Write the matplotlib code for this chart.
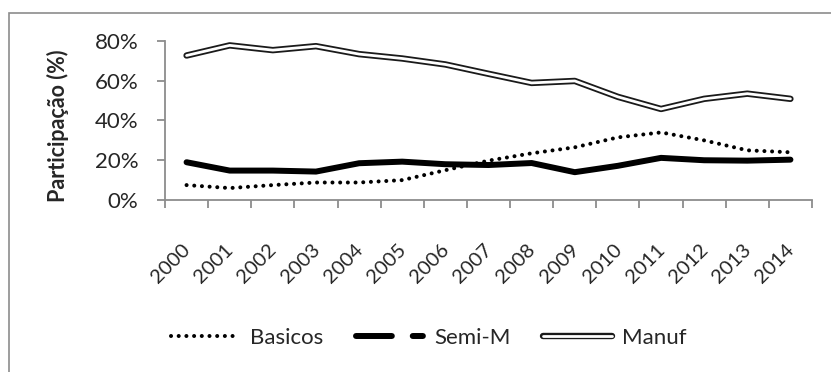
import matplotlib
matplotlib.use("Agg")
import matplotlib.pyplot as plt
import matplotlib.patheffects as pe
from matplotlib.lines import Line2D
from matplotlib.patches import Rectangle
from matplotlib.transforms import ScaledTranslation
from matplotlib.ticker import FuncFormatter

plt.rcParams["font.family"] = ["Lato", "DejaVu Sans"]

# ---------------------------------------------------------------------------
# Data (shares in %)
# ---------------------------------------------------------------------------
years = ["2000", "2001", "2002", "2003", "2004", "2005", "2006", "2007",
         "2008", "2009", "2010", "2011", "2012", "2013", "2014"]
basicos = [7.5, 6.0, 7.5, 8.8, 8.8, 10.0, 15.0, 19.8, 23.5, 26.5, 31.5, 34.0, 30.0, 25.0, 24.0]
semi_m = [19.0, 14.8, 14.8, 14.3, 18.5, 19.3, 18.0, 17.6, 18.6, 14.0, 17.2, 21.2, 20.0, 19.8, 20.3]
manuf = [72.7, 77.8, 75.4, 77.4, 73.4, 71.2, 68.2, 63.5, 58.9, 59.9, 51.9, 45.8, 50.9, 53.5, 50.9]
yticks = [0, 20, 40, 60, 80]

TXT = "#262626"
AXC = "#8c8c8c"
FS = 16

fig = plt.figure(figsize=(8.31, 3.72), dpi=100)
ax = fig.add_axes([165 / 831, 1 - 200 / 372, (812 - 165) / 831, (200 - 41) / 372])

x = list(range(len(years)))

dots = (0, (0.01, 1.9))
ax.plot(x, basicos, color="black", lw=2.9, linestyle=dots,
        dash_capstyle="round")
ax.plot(x, semi_m, color="black", lw=4.3, solid_capstyle="round",
        solid_joinstyle="round")
man_fx = [pe.Stroke(linewidth=4.6, foreground="#1a1a1a"), pe.Normal()]
ax.plot(x, manuf, color="white", lw=2.0, solid_capstyle="round",
        solid_joinstyle="round", path_effects=man_fx)

# axes styling
ax.set_xlim(-0.5, len(years) - 0.5)
ax.set_ylim(0, 80)
for s in ["top", "right"]:
    ax.spines[s].set_visible(False)
for s in ["left", "bottom"]:
    ax.spines[s].set_color(AXC)
    ax.spines[s].set_linewidth(1.3)

ax.set_yticks(yticks)
ax.yaxis.set_major_formatter(FuncFormatter(lambda v, p: f"{v:.0f}%"))
ax.tick_params(axis="y", length=6, width=1.3, color=AXC, labelsize=FS,
               labelcolor=TXT, pad=13)

ax.set_xticks([i - 0.5 for i in range(len(years) + 1)])
ax.set_xticklabels([])
ax.set_xticks(x, minor=True)
ax.set_xticklabels(years, minor=True, rotation=45, ha="right", va="center",
                   rotation_mode="anchor")
ax.tick_params(axis="x", which="major", length=6, width=1.3, color=AXC)
ax.tick_params(axis="x", which="minor", length=0, labelsize=14.5,
               labelcolor=TXT, pad=0)
off = ScaledTranslation(1 / 100, -47 / 100, fig.dpi_scale_trans)
for lab in ax.get_xticklabels(minor=True):
    lab.set_transform(lab.get_transform() + off)

fig.text(58 / 831, 1 - 126 / 372, "Participação (%)", rotation=90,
         ha="center", va="center", fontsize=15.5, fontweight="bold", color=TXT)

# legend
handles = [
    Line2D([], [], color="black", lw=2.9, linestyle=dots,
           dash_capstyle="round"),
    Line2D([], [], color="black", lw=4.3, linestyle=(0, (6, 3.5, 1.7, 10)),
           dash_capstyle="round"),
    Line2D([], [], color="white", lw=2.0, solid_capstyle="round",
           path_effects=man_fx),
]
fig.legend(handles, ["Basicos", "Semi-M", "Manuf"], loc="center",
           bbox_to_anchor=(429 / 831, 1 - 338 / 372), ncol=3, frameon=False,
           fontsize=FS, handlelength=3.1, handletextpad=0.45,
           columnspacing=1.45, labelcolor=TXT)

# outer chart border (right and bottom edges fall outside the image)
fig.patches.append(Rectangle((9 / 831, -0.05), 1.05, 1 - 13 / 372 + 0.05,
                             transform=fig.transFigure, fill=False,
                             edgecolor=AXC, lw=1.2))

fig.savefig("out.png", dpi=100)
